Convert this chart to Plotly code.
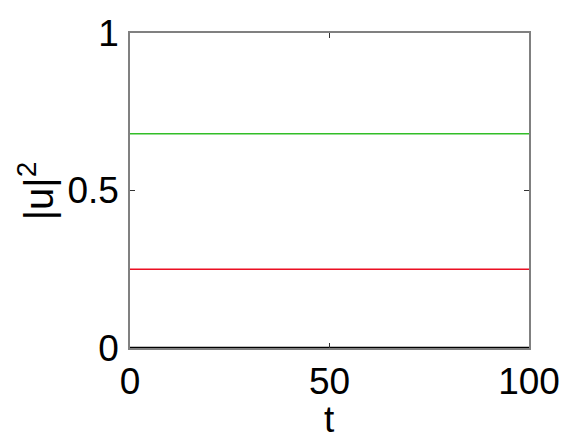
import plotly.graph_objects as go

t = [0, 100]
green_vals = [0.68, 0.68]
red_vals = [0.25, 0.25]
black_vals = [0.0, 0.0]

x_ticks = [0, 50, 100]
x_ticklabels = ["0", "50", "100"]
y_ticks = [0, 0.5, 1]
y_ticklabels = ["0", "0.5", "1"]

font = "Liberation Sans, Arial, sans-serif"

fig = go.Figure()
fig.add_trace(go.Scatter(x=t, y=green_vals, mode="lines",
                         line=dict(color="rgb(50,190,40)", width=1.5), showlegend=False))
fig.add_trace(go.Scatter(x=t, y=red_vals, mode="lines",
                         line=dict(color="rgb(235,15,35)", width=1.5), showlegend=False))
fig.add_trace(go.Scatter(x=t, y=black_vals, mode="lines",
                         line=dict(color="black", width=2.5), showlegend=False))

fig.update_layout(
    width=584, height=439,
    margin=dict(l=122, r=63, t=25, b=99),
    paper_bgcolor="white", plot_bgcolor="white",
    font=dict(family=font, size=37, color="black"),
    xaxis=dict(range=[0, 100], tickvals=x_ticks, ticktext=x_ticklabels,
               showgrid=False, zeroline=False, automargin=False,
               showline=True, linecolor="#808080", linewidth=1.5, mirror="ticks",
               ticks="inside", ticklen=5, tickcolor="#333333", tickwidth=1,
               tickfont=dict(size=37), ticklabelstandoff=0),
    yaxis=dict(range=[0, 1], tickvals=y_ticks, ticktext=y_ticklabels,
               showgrid=False, zeroline=False, automargin=False,
               showline=True, linecolor="#808080", linewidth=1.5, mirror="ticks",
               ticks="inside", ticklen=5, tickcolor="#333333", tickwidth=1,
               tickfont=dict(size=37), ticklabelstandoff=2),
    annotations=[
        dict(text="t", xref="paper", yref="paper", x=0.5, y=-0.226,
             xanchor="center", yanchor="middle", showarrow=False,
             font=dict(size=37)),
        dict(text="|u|<sup>2</sup>", xref="paper", yref="paper", x=-0.236, y=0.5,
             xanchor="center", yanchor="middle", showarrow=False, textangle=-90,
             font=dict(size=40)),
    ],
)

fig.write_html("out.html")
